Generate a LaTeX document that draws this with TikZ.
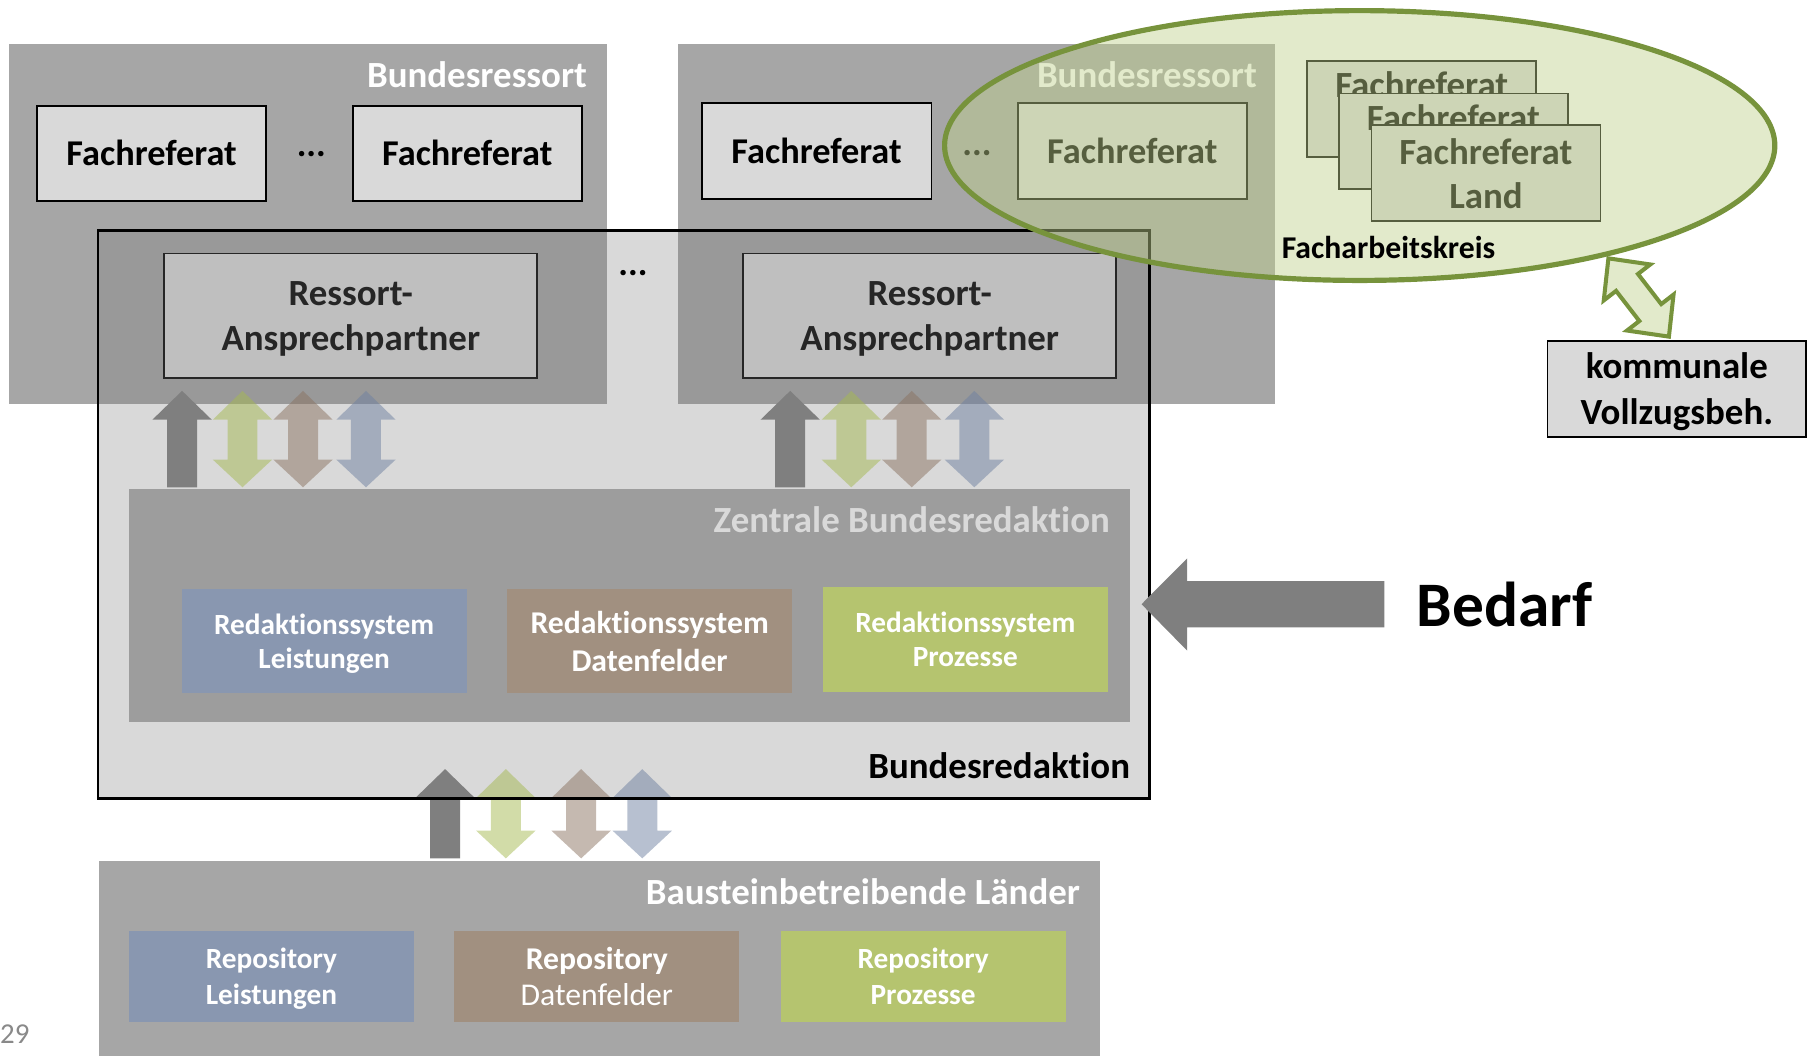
\documentclass[tikz,border=0pt]{standalone}
\usepackage{fontspec}
\setmainfont{Carlito}[Ligatures=NoCommon]
\usetikzlibrary{shapes.geometric}

\definecolor{rgray}{RGB}{120,120,120}
\definecolor{lgray}{RGB}{217,217,217}
\definecolor{mgray}{RGB}{166,166,166}
\definecolor{zgray}{RGB}{157,157,157}
\definecolor{agray}{RGB}{127,127,127}
\definecolor{pblue}{RGB}{137,151,176}
\definecolor{pbrown}{RGB}{161,144,128}
\definecolor{pgreen}{RGB}{181,196,111}
\definecolor{ablue}{RGB}{111,129,161}
\definecolor{abrown}{RGB}{139,115,97}
\definecolor{agreen}{RGB}{165,185,81}
\definecolor{fakfill}{RGB}{191,209,140}
\definecolor{fakline}{RGB}{119,147,60}
\definecolor{fakpale}{RGB}{226,234,203}
\definecolor{rapfill}{RGB}{191,191,191}
\definecolor{raptext}{RGB}{38,38,38}
\definecolor{pagegray}{RGB}{137,137,137}

\newcommand\setfs[2]{\fontsize{#1}{#2}\selectfont}
% vertical block arrows: x, y of tip, y of bottom, style
\newcommand\uparr[4]{\fill[#4] (#1,#2) -- (#1+25.75,#2+25) -- (#1+13,#2+25) -- (#1+13,#3) -- (#1-13,#3) -- (#1-13,#2+25) -- (#1-25.75,#2+25) -- cycle;}
\newcommand\udarr[4]{\fill[#4] (#1,#2) -- (#1+25.75,#2+25) -- (#1+13,#2+25) -- (#1+13,#3-24) -- (#1+25.75,#3-24) -- (#1,#3) -- (#1-25.75,#3-24) -- (#1-13,#3-24) -- (#1-13,#2+25) -- (#1-25.75,#2+25) -- cycle;}

\begin{document}
\begin{tikzpicture}[x=1pt,y=-1pt,
  box/.style={rectangle, inner sep=0pt, outer sep=0pt, align=center},
  title/.style={inner sep=0pt, outer sep=0pt, font=\bfseries\setfs{32}{38}},
  fachbox/.style={box, fill=lgray, draw=black, line width=1.6, font=\bfseries\setfs{31.5}{38}},
  rapbox/.style={box, fill=rapfill, draw=raptext, line width=1.5, text=raptext, text depth=0pt, font=\bfseries\setfs{32}{39}},
  sysbox/.style={box, text=white, text depth=0pt, font=\bfseries\setfs{25.4}{29.7}},
  cardbox/.style={box, fill=lgray, draw=black, line width=1.5, minimum width=198.5, minimum height=83, font=\bfseries\setfs{32}{38}},
  cardtext/.style={inner sep=0pt, anchor=base, font=\bfseries\setfs{32}{38}},
  dots/.style={inner sep=0pt, font=\bfseries\setfs{31.5}{38}},
  mixarr/.style={fill opacity=.5}]
\useasboundingbox (0,0) rectangle (1568,916);

% Bundesredaktion (fill only, frame later)
\node[box, fill=lgray, minimum width=912, minimum height=492.5] (bredak) at (541,446.25) {};

% Bundesressorts
\node[box, fill=rgray, fill opacity=.66, minimum width=518.5, minimum height=312.2] (ressL) at (266.75,194.6) {};
\node[box, fill=rgray, fill opacity=.66, minimum width=518, minimum height=312.2] (ressR) at (847,194.6) {};
\node[title, text=white, anchor=base east] (ressLt) at (509,75.7) {Bundesressort};
\node[title, text=white, anchor=base east] (ressRt) at (1090,75.7) {Bundesressort};

\node[fachbox, minimum width=199, minimum height=82] (fachL1) at (131.5,133) {Fachreferat};
\node[fachbox, minimum width=198.5, minimum height=82] (fachL2) at (405.25,133) {Fachreferat};
\node[fachbox, minimum width=199.3, minimum height=82.7] (fachR1) at (708.2,131) {Fachreferat};
\node[fachbox, minimum width=198.6, minimum height=82.7] (fachR2) at (982,131) {Fachreferat};
\node[dots] (dotsL) at (270,134) {...};
\node[dots] (dotsR) at (847.3,132.4) {...};
\node[dots] (dotsM) at (549,237) {...};

\node[rapbox, minimum width=323.5, minimum height=108.2] (rapL) at (304.25,273.9) {Ressort-\\Ansprechpartner};
\node[rapbox, minimum width=323.5, minimum height=108.2] (rapR) at (806.3,273.9) {Ressort-\\Ansprechpartner};

% arrows between Ressorts and Zentrale Bundesredaktion
\uparr{157.9}{339}{422.6}{agray}
\udarr{210.3}{339}{422.6}{agreen, mixarr}
\udarr{262.8}{339}{422.6}{abrown, mixarr}
\udarr{317.4}{339}{422.6}{ablue, mixarr}
\uparr{685.3}{339}{422.6}{agray}
\udarr{738.3}{339}{422.6}{agreen, mixarr}
\udarr{790.7}{339}{422.6}{abrown, mixarr}
\udarr{845}{339}{422.6}{ablue, mixarr}

% arrows between Laender and Bundesredaktion
\uparr{386}{667}{744.4}{agray}
\udarr{438.7}{667}{744.4}{agreen, mixarr}
\udarr{504}{667}{744.4}{abrown, mixarr}
\udarr{557}{667}{744.4}{ablue, mixarr}

% Zentrale Bundesredaktion
\node[box, fill=zgray, minimum width=868, minimum height=201.6] (zbr) at (546,525.2) {};
\node[title, text=lgray, anchor=base east] (zbrt) at (962.5,462) {Zentrale Bundesredaktion};
\node[sysbox, fill=pblue, minimum width=247, minimum height=90.3] (rsL) at (281.1,556.15) {Redaktionssystem\\Leistungen};
\node[sysbox, fill=pbrown, minimum width=247, minimum height=90.3, font=\bfseries\setfs{27.5}{32.7}] (rsD) at (563.4,556.15) {Redaktionssystem\\Datenfelder};
\node[sysbox, fill=pgreen, minimum width=247, minimum height=91] (rsP) at (837.2,554.5) {Redaktionssystem\\Prozesse};

\node[title, anchor=base east] (bredakt) at (980,675) {Bundesredaktion};
\draw[line width=2] (bredak.north west) rectangle (bredak.south east);

% Bausteinbetreibende Laender
\node[box, fill=mgray, minimum width=868.5, minimum height=169.5] (bl) at (519.75,831.25) {};
\node[title, text=white, anchor=base east] (blt) at (936.6,784) {Bausteinbetreibende Länder};
\node[sysbox, fill=pblue, minimum width=247.8, minimum height=78.6, font=\bfseries\setfs{25.4}{31}] (repL) at (235.4,846.7) {Repository\\Leistungen};
\node[sysbox, fill=pbrown, minimum width=247.2, minimum height=78.6, font=\setfs{27.5}{30.5}] (repD) at (517.6,846.7) {\textbf{Repository}\\Datenfelder};
\node[sysbox, fill=pgreen, minimum width=247.2, minimum height=78.6, font=\bfseries\setfs{25.4}{31}] (repP) at (800.6,846.7) {Repository\\Prozesse};

\node[anchor=base west, inner sep=0pt, text=pagegray, font=\setfs{25}{30}] (pg) at (0,904.6) {29};

% Fachreferate Land, stacked
\node[cardbox] (card1) at (1233,94.4) {};
\node[cardtext] (card1t) at ([yshift=-32pt]card1.north) {Fachreferat};
\node[cardbox] (card2) at (1260.5,122.6) {};
\node[cardtext] (card2t) at ([yshift=-32pt]card2.north) {Fachreferat};
\node[cardbox, text depth=0pt] (card3) at (1288.7,150.2) {Fachreferat\\Land};

% Facharbeitskreis
\node[ellipse, inner sep=0pt, outer sep=0pt, minimum width=720, minimum height=234,
      fill=fakfill, fill opacity=.45, draw=fakline, line width=4.5] (fak) at (1179.2,126.2) {};
\node[anchor=base west, inner sep=0pt, font=\bfseries\setfs{27.5}{33}] (fakt) at (1111.4,224) {Facharbeitskreis};

\node[fachbox, minimum width=224.5, minimum height=82.7, text depth=0pt, font=\bfseries\setfs{32}{40}] (kom) at (1454.25,337.35) {kommunale\\Vollzugsbeh.};

\begin{scope}[shift={(1393.3,222)}, rotate=-52.3]
  \filldraw[fill=fakpale, draw=fakline, line width=3.5]
    (2.6,0) -- (29,25.5) -- (29,12) -- (62,12) -- (62,25.5) -- (88.4,0)
    -- (62,-25.5) -- (62,-12) -- (29,-12) -- (29,-25.5) -- cycle;
\end{scope}

% Bedarf
\fill[agray] (990,524) -- (1029.6,484.2) -- (1029.6,504) -- (1200.6,504) -- (1200.6,544) -- (1029.6,544) -- (1029.6,564.3) -- cycle;
\node[anchor=base west, inner sep=0pt, font=\bfseries\setfs{55}{60}] (bedarf) at (1228.5,543.5) {Bedarf};

\end{tikzpicture}
\end{document}
